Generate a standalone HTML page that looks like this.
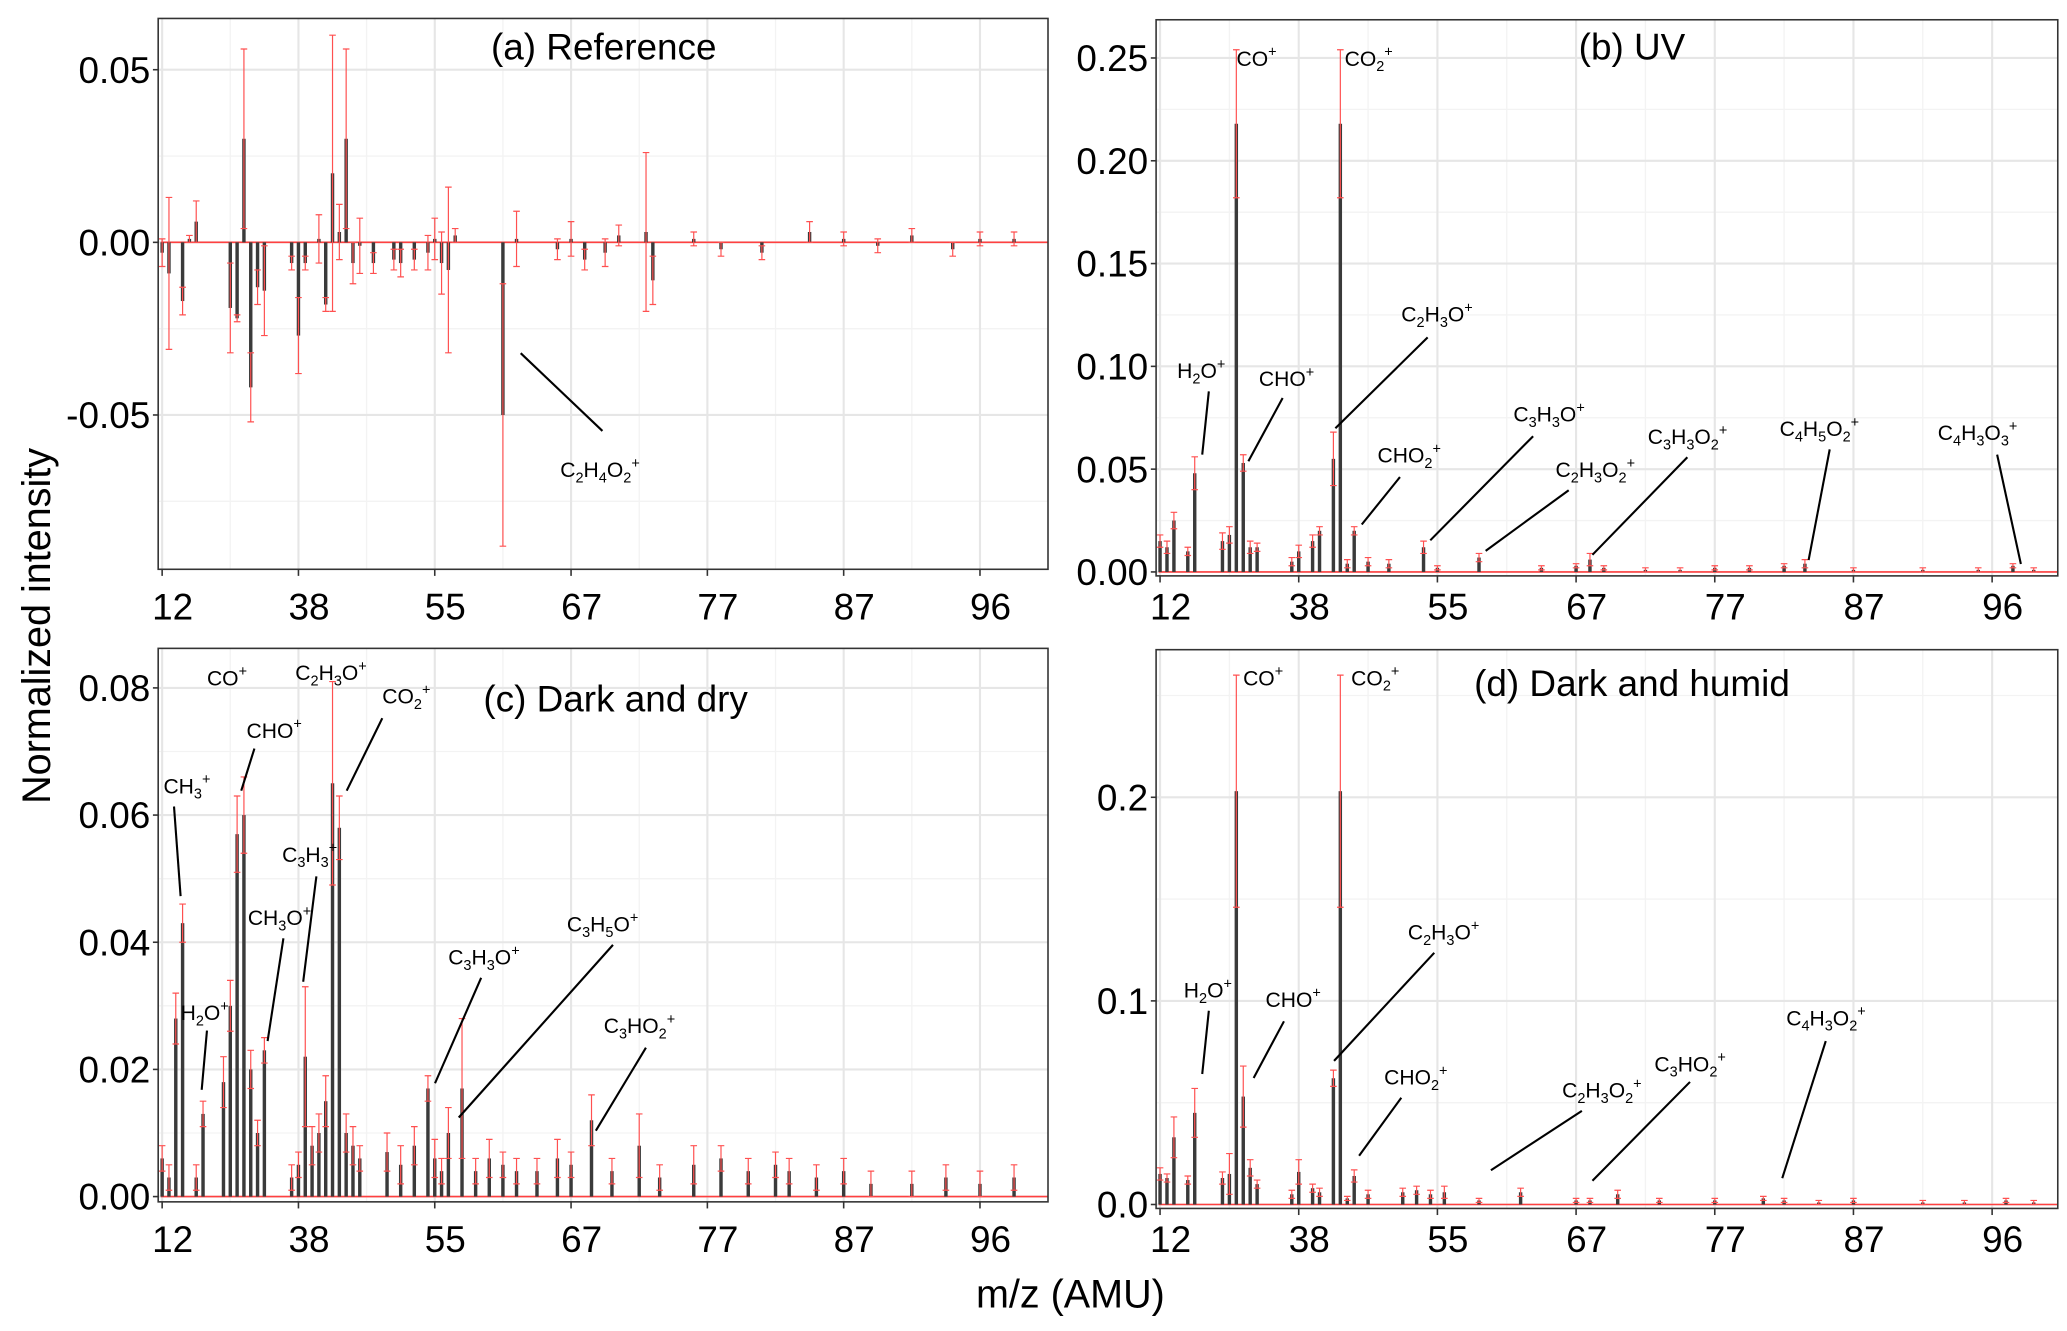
<!DOCTYPE html>
<html><head><meta charset="utf-8"><style>
html,body{margin:0;padding:0;background:#fff;}
svg{display:block;font-family:"Liberation Sans",Arial,sans-serif;}
</style></head><body>
<svg id="fig" width="2067" height="1331" viewBox="0 0 1568 1010" preserveAspectRatio="none" xmlns="http://www.w3.org/2000/svg">
<rect width="1568" height="1010" fill="#fff"/>
<text x="0" y="0" transform="translate(38,475) rotate(-90)" font-size="30" text-anchor="middle" fill="#000">Normalized intensity</text>
<text x="812" y="992" font-size="30" text-anchor="middle" fill="#000">m/z (AMU)</text>
</svg>
<script>
// shared x tick labels (category index -> m/z label)
const xTickIdx = [0, 20, 40, 60, 80, 100, 120];
const xTickLabels = ["12", "38", "55", "67", "77", "87", "96"];

// Panel (a) Reference
const idxA = [0,1,3,4,5,10,11,12,13,14,15,19,20,21,23,24,25,26,27,28,29,31,34,35,37,39,40,41,42,43,50,52,58,60,62,65,67,71,72,78,82,88,95,100,105,110,116,120,125];
const valA = [-0.003,-0.009,-0.017,0.001,0.006,-0.019,-0.022,0.03,-0.042,-0.013,-0.014,-0.006,-0.027,-0.006,0.001,-0.018,0.02,0.003,0.03,-0.006,-0.001,-0.006,-0.005,-0.006,-0.005,-0.003,0.001,-0.006,-0.008,0.002,-0.05,0.001,-0.002,0.001,-0.005,-0.003,0.002,0.003,-0.011,0.001,-0.002,-0.003,0.003,0.001,-0.001,0.002,-0.002,0.001,0.001];
const errA = [0.004,0.022,0.004,0.001,0.006,0.013,0.001,0.026,0.01,0.005,0.013,0.002,0.011,0.002,0.007,0.002,0.04,0.008,0.026,0.006,0.008,0.003,0.003,0.004,0.003,0.005,0.006,0.009,0.024,0.002,0.038,0.008,0.003,0.005,0.003,0.004,0.003,0.023,0.007,0.002,0.002,0.002,0.003,0.002,0.002,0.002,0.002,0.002,0.002];

// Panel (b) UV
const idxB = [0,1,2,4,5,9,10,11,12,13,14,19,20,22,23,25,26,27,28,30,33,38,40,46,55,60,62,64,70,75,80,85,90,93,100,110,118,123,126];
const valB = [0.015,0.012,0.025,0.01,0.048,0.015,0.018,0.218,0.053,0.012,0.012,0.005,0.01,0.015,0.02,0.055,0.218,0.004,0.02,0.005,0.004,0.012,0.002,0.007,0.002,0.003,0.006,0.002,0.001,0.001,0.002,0.002,0.003,0.004,0.001,0.001,0.001,0.003,0.001];
const errB = [0.003,0.003,0.004,0.002,0.008,0.004,0.004,0.036,0.004,0.003,0.002,0.002,0.003,0.003,0.002,0.013,0.036,0.002,0.002,0.002,0.002,0.003,0.001,0.002,0.001,0.001,0.003,0.001,0.001,0.001,0.001,0.001,0.001,0.002,0.001,0.001,0.001,0.001,0.001];

// Panel (c) Dark and dry
const idxC = [0,1,2,3,5,6,9,10,11,12,13,14,15,19,20,21,22,23,24,25,26,27,28,29,33,35,37,39,40,41,42,44,46,48,50,52,55,58,60,63,66,70,73,78,82,86,90,92,96,100,104,110,115,120,125];
const valC = [0.006,0.003,0.028,0.043,0.003,0.013,0.018,0.03,0.057,0.06,0.02,0.01,0.023,0.003,0.005,0.022,0.008,0.01,0.015,0.065,0.058,0.01,0.008,0.006,0.007,0.005,0.008,0.017,0.006,0.004,0.01,0.017,0.004,0.006,0.005,0.004,0.004,0.006,0.005,0.012,0.004,0.008,0.003,0.005,0.006,0.004,0.005,0.004,0.003,0.004,0.002,0.002,0.003,0.002,0.003];
const errC = [0.002,0.002,0.004,0.003,0.002,0.002,0.004,0.004,0.006,0.006,0.003,0.002,0.002,0.002,0.002,0.011,0.003,0.003,0.004,0.016,0.005,0.003,0.003,0.002,0.003,0.003,0.003,0.002,0.003,0.002,0.004,0.011,0.002,0.003,0.002,0.002,0.002,0.003,0.002,0.004,0.002,0.005,0.002,0.003,0.002,0.002,0.002,0.002,0.002,0.002,0.002,0.002,0.002,0.002,0.002];

// Panel (d) Dark and humid
const idxD = [0,1,2,4,5,9,10,11,12,13,14,19,20,22,23,25,26,27,28,30,35,37,39,41,46,52,60,62,66,72,80,87,90,95,100,110,116,122,126];
const valD = [0.015,0.013,0.033,0.012,0.045,0.013,0.015,0.203,0.053,0.018,0.01,0.005,0.016,0.008,0.006,0.062,0.203,0.003,0.014,0.005,0.006,0.007,0.005,0.006,0.002,0.006,0.002,0.002,0.005,0.002,0.002,0.003,0.002,0.001,0.002,0.001,0.001,0.002,0.001];
const errD = [0.003,0.002,0.01,0.002,0.012,0.003,0.01,0.057,0.015,0.004,0.002,0.002,0.006,0.002,0.002,0.004,0.057,0.001,0.003,0.002,0.002,0.002,0.002,0.003,0.001,0.002,0.001,0.001,0.002,0.001,0.001,0.001,0.001,0.001,0.001,0.001,0.001,0.001,0.001];

const NS = "http://www.w3.org/2000/svg";
const svg = document.getElementById('fig');
function mk(tag, attrs, parent){const e=document.createElementNS(NS,tag);for(const k in attrs)e.setAttribute(k,attrs[k]);(parent||svg).appendChild(e);return e;}

const panels = [
 {name:'a',left:120,right:795,top:14,bottom:432,x0:123,xs:5.17,v0:0,y0:183.9,v1:0.05,y1:52.9,ticks:[-0.05,0,0.05],tl:["-0.05","0.00","0.05"],minor:[-0.075,-0.025,0.025],idx:idxA,val:valA,err:errA,xl:470},
 {name:'b',left:877,right:1561,top:15,bottom:437,x0:880,xs:5.26,v0:0,y0:434,v1:0.25,y1:44,ticks:[0,0.05,0.1,0.15,0.2,0.25],tl:["0.00","0.05","0.10","0.15","0.20","0.25"],minor:[0.025,0.075,0.125,0.175,0.225],idx:idxB,val:valB,err:errB,xl:470},
 {name:'c',left:120,right:795,top:492,bottom:912,x0:123,xs:5.17,v0:0,y0:908,v1:0.08,y1:522,ticks:[0,0.02,0.04,0.06,0.08],tl:["0.00","0.02","0.04","0.06","0.08"],minor:[0.01,0.03,0.05,0.07],idx:idxC,val:valC,err:errC,xl:950},
 {name:'d',left:877,right:1561,top:493,bottom:917,x0:880,xs:5.26,v0:0,y0:914,v1:0.2,y1:605,ticks:[0,0.1,0.2],tl:["0.0","0.1","0.2"],minor:[0.05,0.15,0.25],idx:idxD,val:valD,err:errD,xl:950}
];

panels.forEach(p=>{
  const X = i => p.x0 + i*p.xs;
  const Y = v => p.y0 + (v-p.v0)*(p.y1-p.y0)/(p.v1-p.v0);
  const g = mk('g',{});
  
  
  mk('rect',{x:p.left,y:p.top,width:p.right-p.left,height:p.bottom-p.top,fill:'#fff'},g);
  // minor grid
  p.minor.forEach(v=>{const y=Y(v); if(y>p.top&&y<p.bottom) mk('line',{x1:p.left,x2:p.right,y1:y,y2:y,stroke:'#f3f3f3','stroke-width':1},g);});
  xTickIdx.forEach(i=>{const x=X(i+10); if(x<p.right) mk('line',{x1:x,x2:x,y1:p.top,y2:p.bottom,stroke:'#f3f3f3','stroke-width':1},g);});
  // major grid
  p.ticks.forEach(v=>{const y=Y(v); mk('line',{x1:p.left,x2:p.right,y1:y,y2:y,stroke:'#e6e6e6','stroke-width':1.6},g);});
  xTickIdx.forEach(i=>{const x=X(i); mk('line',{x1:x,x2:x,y1:p.top,y2:p.bottom,stroke:'#e6e6e6','stroke-width':1.6},g);});
  // baseline
  mk('line',{x1:p.left+2,x2:p.right,y1:Y(0),y2:Y(0),stroke:'#ff4040','stroke-width':1.2},g);
  // bars and error bars
  p.idx.forEach((i,k)=>{
    const x=X(i), v=p.val[k], e=p.err[k];
    const bar=mk('rect',{x:x-1.3,width:2.6,y:Math.min(Y(0),Y(v)),height:Math.max(0.8,Math.abs(Y(v)-Y(0))),fill:'#3a3a3a'},g);
    
    
    const yt=Y(v+e), yb=Y(v-e);
    const eb=mk('path',{d:`M${x},${yt}V${yb}M${x-2.5},${yt}H${x+2.5}M${x-2.5},${yb}H${x+2.5}`,stroke:'#ff5050','stroke-width':0.9,fill:'none'},g);
    
    
  });
  mk('rect',{x:p.left,y:p.top,width:p.right-p.left,height:p.bottom-p.top,fill:'none',stroke:'#333','stroke-width':1.2},g);
  // y ticks
  p.ticks.forEach((v,k)=>{const y=Y(v);
    mk('line',{x1:p.left-4,x2:p.left,y1:y,y2:y,stroke:'#333','stroke-width':1.2},g);
    const t=mk('text',{x:p.left-6,y:y+10,'font-size':28,'text-anchor':'end',fill:'#000'},g); t.textContent=p.tl[k];
    
    
  });
  // x ticks
  xTickIdx.forEach((i,k)=>{const x=X(i);
    mk('line',{x1:x,x2:x,y1:p.bottom,y2:p.bottom+5,stroke:'#333','stroke-width':1.2},g);
    const t=mk('text',{x:x+8,y:p.xl,'font-size':28,'text-anchor':'middle',fill:'#000'},g); t.textContent=xTickLabels[k];
    
    
  });
});

// titles
[["(a) Reference",458,45],["(b) UV",1238,45],["(c) Dark and dry",467,540],["(d) Dark and humid",1238,528]].forEach(t=>{
  const e=mk('text',{x:t[1],y:t[2],'font-size':28,'text-anchor':'middle',fill:'#000'}); e.textContent=t[0];
  
  
});

// annotation labels: parts [text, isSub]
function label(parts,x,y,line){
  const t=mk('text',{x:x,y:y,'font-size':16,fill:'#000'});
  
  
  parts.forEach(p=>{const s=mk('tspan',{},t); s.textContent=p[0];
    if(p[1]==='sub'){s.setAttribute('font-size','11');s.setAttribute('dy','4');}
    else if(p[1]==='sup'){s.setAttribute('font-size','11');s.setAttribute('dy','-7');}
    else {s.setAttribute('dy','0');}
    // reset baseline after shifts
    if(p[1]==='sub'){const r=mk('tspan',{dy:-4,'font-size':1},t); r.textContent='\u200b';}
    if(p[1]==='sup'){const r=mk('tspan',{dy:7,'font-size':1},t); r.textContent='\u200b';}
  });
  if(line){const l=mk('line',{x1:line[0],y1:line[1],x2:line[2],y2:line[3],stroke:'#000','stroke-width':1.6});
    
    }
}
const C2H4O2=[["C"],["2","sub"],["H"],["4","sub"],["O"],["2","sub"],["+","sup"]];
const CO=[["CO"],["+","sup"]], CO2=[["CO"],["2","sub"],["+","sup"]], H2O=[["H"],["2","sub"],["O"],["+","sup"]];
const CHO=[["CHO"],["+","sup"]], C2H3O=[["C"],["2","sub"],["H"],["3","sub"],["O"],["+","sup"]];
const CHO2=[["CHO"],["2","sub"],["+","sup"]], C3H3O=[["C"],["3","sub"],["H"],["3","sub"],["O"],["+","sup"]];
const C2H3O2=[["C"],["2","sub"],["H"],["3","sub"],["O"],["2","sub"],["+","sup"]];
const C3H3O2=[["C"],["3","sub"],["H"],["3","sub"],["O"],["2","sub"],["+","sup"]];
const C4H5O2=[["C"],["4","sub"],["H"],["5","sub"],["O"],["2","sub"],["+","sup"]];
const C4H3O3=[["C"],["4","sub"],["H"],["3","sub"],["O"],["3","sub"],["+","sup"]];
const C4H3O2=[["C"],["4","sub"],["H"],["3","sub"],["O"],["2","sub"],["+","sup"]];
const CH3=[["CH"],["3","sub"],["+","sup"]], C3H3=[["C"],["3","sub"],["H"],["3","sub"],["+","sup"]];
const CH3O=[["CH"],["3","sub"],["O"],["+","sup"]], C3H5O=[["C"],["3","sub"],["H"],["5","sub"],["O"],["+","sup"]];
const C3HO2=[["C"],["3","sub"],["HO"],["2","sub"],["+","sup"]];

label(C2H4O2,425,362,[395,268,457,327]);
label(CO,938,50); label(CO2,1020,50);
label(H2O,893,287,[917,297,912,345]); label(CHO,955,293,[973,302,947,350]);
label(C2H3O,1063,244,[1083,256,1013,325]); label(CHO2,1045,351,[1062,362,1033,398]);
label(C3H3O,1148,320,[1163,331,1085,410]); label(C2H3O2,1180,362,[1190,372,1127,418]);
label(C3H3O2,1250,337,[1280,347,1208,421]); label(C4H5O2,1350,331,[1388,341,1372,425]);
label(C4H3O3,1470,334,[1515,345,1533,428]);
label(CO,157,520); label(CHO,187,560,[193,568,183,600]); label(CH3,124,602,[132,612,137,680]);
label(H2O,137,774,[157,782,153,827]); label(C2H3O,224,516); label(CO2,290,534,[290,545,263,600]);
label(C3H3,214,654,[240,665,230,745]); label(CH3O,188,702,[215,712,203,790]);
label(C3H3O,340,732,[365,742,330,822]); label(C3H5O,430,707,[465,717,348,848]);
label(C3HO2,458,784,[490,795,452,858]);
label(CO,943,520); label(CO2,1025,520);
label(H2O,898,757,[917,767,912,815]); label(CHO,960,764,[974,775,951,818]);
label(C2H3O,1068,713,[1088,723,1012,805]); label(CHO2,1050,823,[1063,833,1031,877]);
label(C2H3O2,1185,833,[1200,843,1131,888]); label(C3HO2,1255,813,[1282,821,1208,896]);
label(C4H3O2,1355,778,[1385,790,1352,894]);
</script>
</body></html>
